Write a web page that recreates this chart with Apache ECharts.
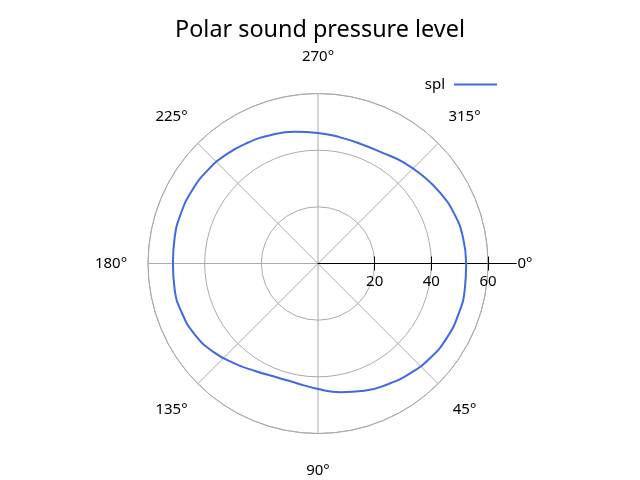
<!DOCTYPE html>
<html>
<head>
<meta charset="utf-8">
<script src="https://cdn.jsdelivr.net/npm/echarts@6/dist/echarts.min.js"></script>
<style>
  html, body { margin: 0; padding: 0; background: #fff; }
  #chart { width: 640px; height: 480px; }
</style>
</head>
<body>
<div id="chart"></div>
<script>
// angle (deg, clockwise from right) and measured sound pressure level
const angles = [0, 10, 20, 30, 40, 50, 60, 70, 80, 90, 100, 110, 120,
  130, 140, 150, 160, 170, 180, 190, 200, 210, 220, 230, 240,
  250, 260, 270, 280, 290, 300, 310, 320, 330, 340, 350, 360];
const spl = [52.3, 52.6, 52.7, 52.5, 51.8, 50.6, 49.2, 47.8, 46.1, 44.3, 42.9, 42.7, 43.9,
  46.0, 48.4, 50.2, 51.1, 51.4, 51.2, 51.4, 51.5, 51.4, 51.0, 50.3, 49.3,
  48.3, 47.2, 46.1, 45.2, 44.8, 45.2, 46.7, 48.2, 49.8, 51.2, 52.0, 52.3];
const radiusTicks = [20, 40, 60];
const seriesName = 'spl';

const FONT = 'Noto Sans';
const CENTER = [318, 263.5];
const R = 170; // pixel radius of the 60 ring

const chart = echarts.init(document.getElementById('chart'));

chart.setOption({
  animation: false,
  textStyle: { fontFamily: FONT },
  title: {
    text: 'Polar sound pressure level',
    left: 'center',
    top: 14,
    textStyle: { fontFamily: FONT, fontSize: 23.4, fontWeight: 'normal', color: '#000' }
  },
  legend: {
    data: [seriesName],
    align: 'right',
    right: 143,
    top: 77,
    padding: 0,
    icon: 'rect',
    itemWidth: 43,
    itemHeight: 2,
    textStyle: { fontFamily: FONT, fontSize: 15, color: '#000', padding: [0, 4, 0, 0] }
  },
  polar: [
    { center: CENTER, radius: R },
    // a slightly larger twin, only used to run the radial spine past the outer ring
    { center: CENTER, radius: R * 70 / 60 }
  ],
  angleAxis: [
    {
      polarIndex: 0,
      type: 'value',
      min: 0,
      max: 360,
      interval: 45,
      startAngle: 0,
      clockwise: true,
      axisLine: { lineStyle: { color: '#aaa', width: 1 } },
      axisTick: { show: false },
      axisLabel: {
        margin: 36.5,
        formatter: (v) => '{a|' + v + '°}',
        // tiny box so every label is centred on its anchor point
        rich: {
          a: {
            width: 1, height: 1, lineHeight: 1, align: 'center', verticalAlign: 'middle',
            fontSize: 15, color: '#000', fontFamily: FONT
          }
        }
      },
      splitLine: { lineStyle: { color: '#aaa', width: 1 } }
    },
    {
      polarIndex: 1,
      type: 'value',
      min: 0,
      max: 360,
      startAngle: 0,
      show: false
    }
  ],
  radiusAxis: [
    {
      polarIndex: 0,
      type: 'value',
      min: 0,
      max: 60,
      interval: 20,
      axisLine: { show: false },
      axisTick: { show: true, length: -7, lineStyle: { color: '#000' } },
      axisLabel: {
        fontSize: 15, color: '#000', margin: -11, verticalAlign: 'top',
        showMinLabel: false
      },
      splitLine: { show: true, lineStyle: { color: '#aaa', width: 1 } }
    },
    {
      polarIndex: 1,
      type: 'value',
      min: 0,
      max: 70,
      axisLine: { show: true, lineStyle: { color: '#000', width: 1 } },
      axisTick: { show: true, length: 7, customValues: radiusTicks, lineStyle: { color: '#000' } },
      axisLabel: { show: false },
      splitLine: { show: false }
    }
  ],
  series: [
    {
      name: seriesName,
      type: 'line',
      coordinateSystem: 'polar',
      polarIndex: 0,
      smooth: true,
      symbol: 'none',
      data: angles.map((a, i) => [spl[i], a]),
      lineStyle: { color: '#4169e1', width: 2 },
      itemStyle: { color: '#4169e1' }
    }
  ]
});
</script>
</body>
</html>
